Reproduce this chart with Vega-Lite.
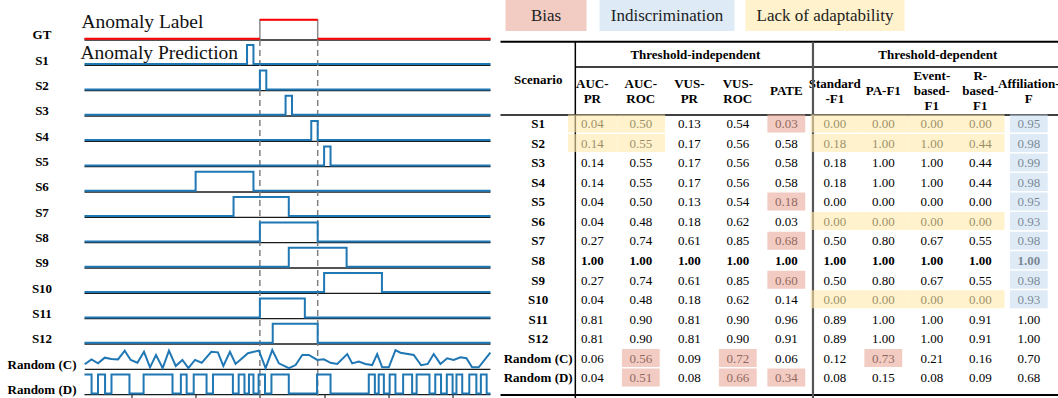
{
  "$schema": "https://vega.github.io/schema/vega-lite/v6.json",
  "padding": {"left": 6.5, "top": 0, "right": 0, "bottom": 0},
  "spacing": 5,
  "config": {
    "view": {"stroke": null},
    "font": "Liberation Serif",
    "text": {"font": "Liberation Serif"},
    "axis": {"labelFont": "Liberation Serif"}
  },
  "datasets": {
    "traces": [
      {"series":"GT","t":2.7,"v":0},{"series":"GT","t":30,"v":1},{"series":"GT","t":39,"v":0},{"series":"GT","t":65.9,"v":0},
      {"series":"S1","t":2.7,"v":0},{"series":"S1","t":28,"v":1},{"series":"S1","t":29,"v":0},{"series":"S1","t":65.9,"v":0},
      {"series":"S2","t":2.7,"v":0},{"series":"S2","t":30,"v":1},{"series":"S2","t":31,"v":0},{"series":"S2","t":65.9,"v":0},
      {"series":"S3","t":2.7,"v":0},{"series":"S3","t":34,"v":1},{"series":"S3","t":35,"v":0},{"series":"S3","t":65.9,"v":0},
      {"series":"S4","t":2.7,"v":0},{"series":"S4","t":38,"v":1},{"series":"S4","t":39,"v":0},{"series":"S4","t":65.9,"v":0},
      {"series":"S5","t":2.7,"v":0},{"series":"S5","t":40,"v":1},{"series":"S5","t":41,"v":0},{"series":"S5","t":65.9,"v":0},
      {"series":"S6","t":2.7,"v":0},{"series":"S6","t":20,"v":1},{"series":"S6","t":29,"v":0},{"series":"S6","t":65.9,"v":0},
      {"series":"S7","t":2.7,"v":0},{"series":"S7","t":25.9,"v":1},{"series":"S7","t":34.5,"v":0},{"series":"S7","t":65.9,"v":0},
      {"series":"S8","t":2.7,"v":0},{"series":"S8","t":30,"v":1},{"series":"S8","t":39,"v":0},{"series":"S8","t":65.9,"v":0},
      {"series":"S9","t":2.7,"v":0},{"series":"S9","t":34.5,"v":1},{"series":"S9","t":43.5,"v":0},{"series":"S9","t":65.9,"v":0},
      {"series":"S10","t":2.7,"v":0},{"series":"S10","t":40,"v":1},{"series":"S10","t":49,"v":0},{"series":"S10","t":65.9,"v":0},
      {"series":"S11","t":2.7,"v":0},{"series":"S11","t":30,"v":1},{"series":"S11","t":37,"v":0},{"series":"S11","t":65.9,"v":0},
      {"series":"S12","t":2.7,"v":0},{"series":"S12","t":32,"v":1},{"series":"S12","t":39,"v":0},{"series":"S12","t":65.9,"v":0},
      {"series":"Random (C)","t":2.74,"v":0.2},{"series":"Random (C)","t":3.78,"v":0.46},{"series":"Random (C)","t":4.81,"v":0.25},{"series":"Random (C)","t":5.85,"v":0.55},{"series":"Random (C)","t":6.89,"v":0.48},{"series":"Random (C)","t":7.92,"v":0.46},{"series":"Random (C)","t":8.96,"v":0.92},{"series":"Random (C)","t":9.89,"v":0.43},{"series":"Random (C)","t":10.94,"v":0.28},{"series":"Random (C)","t":11.96,"v":0.86},{"series":"Random (C)","t":12.9,"v":0.04},{"series":"Random (C)","t":13.83,"v":0.69},{"series":"Random (C)","t":14.87,"v":0.0},{"series":"Random (C)","t":15.85,"v":0.92},{"series":"Random (C)","t":16.9,"v":0.11},{"series":"Random (C)","t":17.94,"v":0.43},{"series":"Random (C)","t":18.87,"v":0.0},{"series":"Random (C)","t":19.9,"v":0.43},{"series":"Random (C)","t":20.94,"v":0.28},{"series":"Random (C)","t":22.44,"v":0.86},{"series":"Random (C)","t":23.47,"v":0.83},{"series":"Random (C)","t":24.31,"v":0.11},{"series":"Random (C)","t":25.34,"v":0.86},{"series":"Random (C)","t":26.22,"v":0.22},{"series":"Random (C)","t":28.14,"v":0.78},{"series":"Random (C)","t":29.85,"v":0.92},{"series":"Random (C)","t":30.89,"v":0.0},{"series":"Random (C)","t":31.93,"v":0.95},{"series":"Random (C)","t":32.96,"v":0.25},{"series":"Random (C)","t":34.51,"v":0.0},{"series":"Random (C)","t":35.56,"v":0.16},{"series":"Random (C)","t":36.6,"v":0.69},{"series":"Random (C)","t":37.62,"v":0.69},{"series":"Random (C)","t":38.93,"v":0.43},{"series":"Random (C)","t":39.96,"v":0.46},{"series":"Random (C)","t":41.0,"v":0.28},{"series":"Random (C)","t":42.04,"v":0.22},{"series":"Random (C)","t":43.6,"v":0.74},{"series":"Random (C)","t":44.37,"v":0.25},{"series":"Random (C)","t":45.4,"v":0.34},{"series":"Random (C)","t":46.44,"v":0.22},{"series":"Random (C)","t":47.48,"v":0.16},{"series":"Random (C)","t":48.26,"v":0.74},{"series":"Random (C)","t":49.04,"v":0.04},{"series":"Random (C)","t":50.07,"v":0.04},{"series":"Random (C)","t":51.11,"v":0.95},{"series":"Random (C)","t":51.88,"v":0.81},{"series":"Random (C)","t":53.95,"v":0.69},{"series":"Random (C)","t":55.1,"v":0.15},{"series":"Random (C)","t":56.13,"v":0.22},{"series":"Random (C)","t":57.06,"v":0.74},{"series":"Random (C)","t":58.1,"v":0.22},{"series":"Random (C)","t":59.15,"v":0.52},{"series":"Random (C)","t":60.17,"v":0.43},{"series":"Random (C)","t":61.22,"v":0.57},{"series":"Random (C)","t":62.15,"v":0.52},{"series":"Random (C)","t":63.04,"v":0.04},{"series":"Random (C)","t":64.06,"v":0.04},{"series":"Random (C)","t":65.88,"v":0.81},
      {"series":"Random (D)","t":2.7,"v":1},{"series":"Random (D)","t":3.8,"v":0},{"series":"Random (D)","t":4.8,"v":1},{"series":"Random (D)","t":5.9,"v":0},{"series":"Random (D)","t":6.9,"v":1},{"series":"Random (D)","t":9.7,"v":0},{"series":"Random (D)","t":11.9,"v":1},{"series":"Random (D)","t":16.4,"v":0},{"series":"Random (D)","t":17.7,"v":1},{"series":"Random (D)","t":18.6,"v":0},{"series":"Random (D)","t":19.7,"v":1},{"series":"Random (D)","t":21.7,"v":0},{"series":"Random (D)","t":22.7,"v":1},{"series":"Random (D)","t":25.8,"v":0},{"series":"Random (D)","t":26.7,"v":1},{"series":"Random (D)","t":27.6,"v":0},{"series":"Random (D)","t":28.3,"v":1},{"series":"Random (D)","t":29.0,"v":0},{"series":"Random (D)","t":29.8,"v":1},{"series":"Random (D)","t":30.8,"v":0},{"series":"Random (D)","t":31.8,"v":1},{"series":"Random (D)","t":34.5,"v":0},{"series":"Random (D)","t":38.9,"v":1},{"series":"Random (D)","t":41.0,"v":0},{"series":"Random (D)","t":46.95,"v":1},{"series":"Random (D)","t":47.9,"v":0},{"series":"Random (D)","t":48.5,"v":1},{"series":"Random (D)","t":49.3,"v":0},{"series":"Random (D)","t":50.2,"v":1},{"series":"Random (D)","t":51.1,"v":0},{"series":"Random (D)","t":52.3,"v":1},{"series":"Random (D)","t":53.7,"v":0},{"series":"Random (D)","t":54.4,"v":1},{"series":"Random (D)","t":56.4,"v":0},{"series":"Random (D)","t":57.3,"v":1},{"series":"Random (D)","t":58.2,"v":0},{"series":"Random (D)","t":59.1,"v":1},{"series":"Random (D)","t":60.0,"v":0},{"series":"Random (D)","t":60.6,"v":1},{"series":"Random (D)","t":61.5,"v":0},{"series":"Random (D)","t":62.6,"v":1},{"series":"Random (D)","t":63.7,"v":0},{"series":"Random (D)","t":64.4,"v":1},{"series":"Random (D)","t":65.3,"v":0},{"series":"Random (D)","t":65.9,"v":0}
    ],
    "scores": [
      {"scenario":"S1","AUC-PR":0.04,"AUC-ROC":0.50,"VUS-PR":0.13,"VUS-ROC":0.54,"PATE":0.03,"Standard-F1":0.00,"PA-F1":0.00,"Event-based-F1":0.00,"R-based-F1":0.00,"Affiliation-F":0.95},
      {"scenario":"S2","AUC-PR":0.14,"AUC-ROC":0.55,"VUS-PR":0.17,"VUS-ROC":0.56,"PATE":0.58,"Standard-F1":0.18,"PA-F1":1.00,"Event-based-F1":1.00,"R-based-F1":0.44,"Affiliation-F":0.98},
      {"scenario":"S3","AUC-PR":0.14,"AUC-ROC":0.55,"VUS-PR":0.17,"VUS-ROC":0.56,"PATE":0.58,"Standard-F1":0.18,"PA-F1":1.00,"Event-based-F1":1.00,"R-based-F1":0.44,"Affiliation-F":0.99},
      {"scenario":"S4","AUC-PR":0.14,"AUC-ROC":0.55,"VUS-PR":0.17,"VUS-ROC":0.56,"PATE":0.58,"Standard-F1":0.18,"PA-F1":1.00,"Event-based-F1":1.00,"R-based-F1":0.44,"Affiliation-F":0.98},
      {"scenario":"S5","AUC-PR":0.04,"AUC-ROC":0.50,"VUS-PR":0.13,"VUS-ROC":0.54,"PATE":0.18,"Standard-F1":0.00,"PA-F1":0.00,"Event-based-F1":0.00,"R-based-F1":0.00,"Affiliation-F":0.95},
      {"scenario":"S6","AUC-PR":0.04,"AUC-ROC":0.48,"VUS-PR":0.18,"VUS-ROC":0.62,"PATE":0.03,"Standard-F1":0.00,"PA-F1":0.00,"Event-based-F1":0.00,"R-based-F1":0.00,"Affiliation-F":0.93},
      {"scenario":"S7","AUC-PR":0.27,"AUC-ROC":0.74,"VUS-PR":0.61,"VUS-ROC":0.85,"PATE":0.68,"Standard-F1":0.50,"PA-F1":0.80,"Event-based-F1":0.67,"R-based-F1":0.55,"Affiliation-F":0.98},
      {"scenario":"S8","AUC-PR":1.00,"AUC-ROC":1.00,"VUS-PR":1.00,"VUS-ROC":1.00,"PATE":1.00,"Standard-F1":1.00,"PA-F1":1.00,"Event-based-F1":1.00,"R-based-F1":1.00,"Affiliation-F":1.00},
      {"scenario":"S9","AUC-PR":0.27,"AUC-ROC":0.74,"VUS-PR":0.61,"VUS-ROC":0.85,"PATE":0.60,"Standard-F1":0.50,"PA-F1":0.80,"Event-based-F1":0.67,"R-based-F1":0.55,"Affiliation-F":0.98},
      {"scenario":"S10","AUC-PR":0.04,"AUC-ROC":0.48,"VUS-PR":0.18,"VUS-ROC":0.62,"PATE":0.14,"Standard-F1":0.00,"PA-F1":0.00,"Event-based-F1":0.00,"R-based-F1":0.00,"Affiliation-F":0.93},
      {"scenario":"S11","AUC-PR":0.81,"AUC-ROC":0.90,"VUS-PR":0.81,"VUS-ROC":0.90,"PATE":0.96,"Standard-F1":0.89,"PA-F1":1.00,"Event-based-F1":1.00,"R-based-F1":0.91,"Affiliation-F":1.00},
      {"scenario":"S12","AUC-PR":0.81,"AUC-ROC":0.90,"VUS-PR":0.81,"VUS-ROC":0.90,"PATE":0.91,"Standard-F1":0.89,"PA-F1":1.00,"Event-based-F1":1.00,"R-based-F1":0.91,"Affiliation-F":1.00},
      {"scenario":"Random (C)","AUC-PR":0.06,"AUC-ROC":0.56,"VUS-PR":0.09,"VUS-ROC":0.72,"PATE":0.06,"Standard-F1":0.12,"PA-F1":0.73,"Event-based-F1":0.21,"R-based-F1":0.16,"Affiliation-F":0.70},
      {"scenario":"Random (D)","AUC-PR":0.04,"AUC-ROC":0.51,"VUS-PR":0.08,"VUS-ROC":0.66,"PATE":0.34,"Standard-F1":0.08,"PA-F1":0.15,"Event-based-F1":0.08,"R-based-F1":0.09,"Affiliation-F":0.68}
    ],
    "highlights": [
      {"scenario":"S1","metric":"AUC-PR","issue":"Lack of adaptability"},{"scenario":"S1","metric":"AUC-ROC","issue":"Lack of adaptability"},
      {"scenario":"S2","metric":"AUC-PR","issue":"Lack of adaptability"},{"scenario":"S2","metric":"AUC-ROC","issue":"Lack of adaptability"},
      {"scenario":"S1","metric":"Standard-F1","issue":"Lack of adaptability"},{"scenario":"S1","metric":"PA-F1","issue":"Lack of adaptability"},{"scenario":"S1","metric":"Event-based-F1","issue":"Lack of adaptability"},{"scenario":"S1","metric":"R-based-F1","issue":"Lack of adaptability"},
      {"scenario":"S2","metric":"Standard-F1","issue":"Lack of adaptability"},{"scenario":"S2","metric":"PA-F1","issue":"Lack of adaptability"},{"scenario":"S2","metric":"Event-based-F1","issue":"Lack of adaptability"},{"scenario":"S2","metric":"R-based-F1","issue":"Lack of adaptability"},
      {"scenario":"S6","metric":"Standard-F1","issue":"Lack of adaptability"},{"scenario":"S6","metric":"PA-F1","issue":"Lack of adaptability"},{"scenario":"S6","metric":"Event-based-F1","issue":"Lack of adaptability"},{"scenario":"S6","metric":"R-based-F1","issue":"Lack of adaptability"},
      {"scenario":"S10","metric":"Standard-F1","issue":"Lack of adaptability"},{"scenario":"S10","metric":"PA-F1","issue":"Lack of adaptability"},{"scenario":"S10","metric":"Event-based-F1","issue":"Lack of adaptability"},{"scenario":"S10","metric":"R-based-F1","issue":"Lack of adaptability"},
      {"scenario":"S1","metric":"PATE","issue":"Bias"},{"scenario":"S5","metric":"PATE","issue":"Bias"},{"scenario":"S7","metric":"PATE","issue":"Bias"},{"scenario":"S9","metric":"PATE","issue":"Bias"},{"scenario":"Random (D)","metric":"PATE","issue":"Bias"},
      {"scenario":"Random (C)","metric":"AUC-ROC","issue":"Bias"},{"scenario":"Random (C)","metric":"VUS-ROC","issue":"Bias"},{"scenario":"Random (C)","metric":"PA-F1","issue":"Bias"},
      {"scenario":"Random (D)","metric":"AUC-ROC","issue":"Bias"},{"scenario":"Random (D)","metric":"VUS-ROC","issue":"Bias"},
      {"scenario":"S1","metric":"Affiliation-F","issue":"Indiscrimination"},{"scenario":"S2","metric":"Affiliation-F","issue":"Indiscrimination"},{"scenario":"S3","metric":"Affiliation-F","issue":"Indiscrimination"},{"scenario":"S4","metric":"Affiliation-F","issue":"Indiscrimination"},{"scenario":"S5","metric":"Affiliation-F","issue":"Indiscrimination"},{"scenario":"S6","metric":"Affiliation-F","issue":"Indiscrimination"},{"scenario":"S7","metric":"Affiliation-F","issue":"Indiscrimination"},{"scenario":"S8","metric":"Affiliation-F","issue":"Indiscrimination"},{"scenario":"S9","metric":"Affiliation-F","issue":"Indiscrimination"},{"scenario":"S10","metric":"Affiliation-F","issue":"Indiscrimination"}
    ],
    "headers": [
      {"metric":"AUC-PR","label":["AUC-","PR"]},{"metric":"AUC-ROC","label":["AUC-","ROC"]},{"metric":"VUS-PR","label":["VUS-","PR"]},{"metric":"VUS-ROC","label":["VUS-","ROC"]},{"metric":"PATE","label":["PATE"]},
      {"metric":"Standard-F1","label":["Standard","-F1"]},{"metric":"PA-F1","label":["PA-F1"]},{"metric":"Event-based-F1","label":["Event-","based-","F1"]},{"metric":"R-based-F1","label":["R-","based-","F1"]},{"metric":"Affiliation-F","label":["Affiliation-","F"]}
    ],
    "groups": [
      {"group":"Threshold-independent","middle":"VUS-PR"},
      {"group":"Threshold-dependent","middle":"Event-based-F1"}
    ],
    "issues": [
      {"issue":"Bias","order":1},{"issue":"Indiscrimination","order":2},{"issue":"Lack of adaptability","order":3}
    ]
  },
  "hconcat": [
    {
      "width": 406,
      "height": 398,
      "layer": [
        {
          "data": {"name": "traces"},
          "transform": [{"aggregate": [{"op": "min", "field": "t", "as": "t0"}, {"op": "max", "field": "t", "as": "t1"}], "groupby": ["series"]}],
          "mark": {"type": "rule", "color": "#1a1a1a", "strokeWidth": 1.3},
          "encoding": {
            "x": {"field": "t0", "type": "quantitative", "title": null, "scale": {"domain": [2.7, 65.9], "nice": false, "zero": false},
                  "axis": {"values": [10, 20, 30, 40, 50, 60], "labels": false, "domain": false, "grid": false, "ticks": true, "tickSize": 3.5, "offset": -3.5, "tickColor": "#000", "tickWidth": 1, "title": null}},
            "x2": {"field": "t1"},
            "y": {"field": "series", "type": "nominal", "title": null,
                  "scale": {"domain": ["GT","S1","S2","S3","S4","S5","S6","S7","S8","S9","S10","S11","S12","Random (C)","Random (D)"], "paddingInner": 0, "paddingOuter": 0.355, "align": 0.815},
                  "axis": {"title": null, "domain": false, "ticks": false, "grid": false, "labelAlign": "center", "labelPadding": 43, "labelOffset": 8, "labelFontSize": 13, "labelFontWeight": "bold", "labelColor": "#000", "labelOverlap": false, "labelBaseline": "middle"}},
            "yOffset": {"datum": -0.065, "type": "quantitative", "scale": {"domain": [0, 1], "range": [24.1, 5.1], "nice": false, "zero": false}}
          }
        },
        {
          "data": {"name": "traces"},
          "transform": [{"filter": "datum.series == 'GT' && datum.t > 3 && datum.t < 65"}],
          "mark": {"type": "rule", "color": "#808080", "strokeWidth": 1.5, "strokeDash": [6, 4]},
          "encoding": {
            "x": {"field": "t", "type": "quantitative", "title": null},
            "y": {"datum": "GT", "type": "nominal", "bandPosition": 1},
            "y2": {"value": "height"}
          }
        },
        {
          "data": {"name": "traces"},
          "transform": [{"filter": "datum.series != 'GT' && datum.series != 'Random (C)'"}],
          "mark": {"type": "line", "interpolate": "step-after", "color": "#1f77b4", "strokeWidth": 2},
          "encoding": {
            "x": {"field": "t", "type": "quantitative", "title": null},
            "y": {"field": "series", "type": "nominal", "title": null},
            "yOffset": {"field": "v", "type": "quantitative"},
            "detail": {"field": "series"},
            "order": {"field": "t", "type": "quantitative"}
          }
        },
        {
          "data": {"name": "traces"},
          "transform": [{"filter": "datum.series == 'Random (C)'"}],
          "mark": {"type": "line", "color": "#1f77b4", "strokeWidth": 2},
          "encoding": {
            "x": {"field": "t", "type": "quantitative", "title": null},
            "y": {"field": "series", "type": "nominal", "title": null},
            "yOffset": {"field": "v", "type": "quantitative"},
            "detail": {"field": "series"},
            "order": {"field": "t", "type": "quantitative"}
          }
        },
        {
          "data": {"name": "traces"},
          "transform": [{"filter": "datum.series == 'GT'"}],
          "mark": {"type": "line", "interpolate": "step-after", "color": "#8c8c8c", "strokeWidth": 1.5},
          "encoding": {
            "x": {"field": "t", "type": "quantitative", "title": null},
            "y": {"field": "series", "type": "nominal", "title": null},
            "yOffset": {"field": "v", "type": "quantitative"},
            "order": {"field": "t", "type": "quantitative"}
          }
        },
        {
          "data": {"name": "traces"},
          "transform": [
            {"filter": "datum.series == 'GT'"},
            {"window": [{"op": "lead", "field": "t", "as": "t_next"}], "sort": [{"field": "t"}]},
            {"filter": "datum.t_next != null"}
          ],
          "mark": {"type": "rule", "color": "#ff0000", "strokeWidth": 2},
          "encoding": {
            "x": {"field": "t", "type": "quantitative", "title": null},
            "x2": {"field": "t_next"},
            "y": {"field": "series", "type": "nominal", "title": null},
            "yOffset": {"field": "v", "type": "quantitative"}
          }
        },
        {
          "data": {"values": [{"series": "GT", "note": "Anomaly Label"}]},
          "mark": {"type": "text", "align": "left", "baseline": "middle", "fontSize": 19.5, "dx": -3, "color": "#111"},
          "encoding": {
            "x": {"datum": 2.7, "type": "quantitative"},
            "y": {"field": "series", "type": "nominal", "title": null},
            "yOffset": {"datum": 0.88, "type": "quantitative"},
            "text": {"field": "note"}
          }
        },
        {
          "data": {"values": [{"series": "S1", "note": "Anomaly Prediction"}]},
          "mark": {"type": "text", "align": "left", "baseline": "middle", "fontSize": 19.5, "dx": -4, "color": "#111"},
          "encoding": {
            "x": {"datum": 2.7, "type": "quantitative"},
            "y": {"field": "series", "type": "nominal", "title": null},
            "yOffset": {"datum": 0.584, "type": "quantitative"},
            "text": {"field": "note"}
          }
        }
      ]
    },
    {
      "width": 563,
      "height": 398,
      "layer": [
        {
          "data": {"name": "issues"},
          "layer": [
            {
              "mark": {"type": "tick", "orient": "horizontal", "thickness": 31, "opacity": 0.6},
              "encoding": {
                "x": {"field": "order", "type": "quantitative", "title": null, "scale": {"domain": [1, 2, 3], "range": [45.5, 166.5, 324.5], "nice": false, "zero": false}, "axis": null},
                "y": {"datum": 0.5, "type": "quantitative", "scale": {"domain": [0, 1], "range": [0, 31], "nice": false, "zero": false}, "axis": null},
                "size": {"field": "order", "type": "quantitative", "scale": {"domain": [1, 2, 3], "range": [81, 135, 159], "nice": false, "zero": false}, "legend": null},
                "color": {"field": "issue", "type": "nominal", "scale": {"domain": ["Bias", "Indiscrimination", "Lack of adaptability"], "range": ["#E9A899", "#C8DEF2", "#FFE9AA"]}, "legend": null}
              }
            },
            {
              "mark": {"type": "text", "fontSize": 17, "color": "#222", "baseline": "middle"},
              "encoding": {
                "x": {"field": "order", "type": "quantitative", "title": null},
                "y": {"datum": 0.5, "type": "quantitative"},
                "text": {"field": "issue"}
              }
            }
          ]
        },
        {
          "layer": [
            {
              "layer": [
                {
                  "data": {"name": "headers"},
                  "transform": [{"filter": "length(datum.label) == 1"}],
                  "mark": {"type": "text", "fontSize": 13, "fontWeight": "bold", "baseline": "middle", "lineHeight": 15, "color": "#000"},
                  "encoding": {
                    "x": {"field": "metric", "type": "nominal", "title": null,
                          "scale": {"domain": ["Scenario","AUC-PR","AUC-ROC","VUS-PR","VUS-ROC","PATE","Standard-F1","PA-F1","Event-based-F1","R-based-F1","Affiliation-F"], "range": [19.05, 552.55], "paddingInner": 0, "paddingOuter": 0}, "axis": null},
                    "y": {"datum": 3, "type": "quantitative", "scale": {"domain": [0, 1, 2, 3, 4, 5], "range": [41.7, 55, 67, 91, 115, 395], "nice": false, "zero": false}, "axis": null},
                    "text": {"field": "label"}
                  }
                },
                {
                  "data": {"name": "headers"},
                  "transform": [{"filter": "length(datum.label) == 2"}],
                  "mark": {"type": "text", "fontSize": 13, "fontWeight": "bold", "baseline": "middle", "lineHeight": 15, "dy": -7.5, "color": "#000"},
                  "encoding": {
                    "x": {"field": "metric", "type": "nominal", "title": null},
                    "y": {"datum": 3, "type": "quantitative"},
                    "text": {"field": "label"}
                  }
                },
                {
                  "data": {"name": "headers"},
                  "transform": [{"filter": "length(datum.label) == 3"}],
                  "mark": {"type": "text", "fontSize": 13, "fontWeight": "bold", "baseline": "middle", "lineHeight": 15, "dy": -15, "color": "#000"},
                  "encoding": {
                    "x": {"field": "metric", "type": "nominal", "title": null},
                    "y": {"datum": 3, "type": "quantitative"},
                    "text": {"field": "label"}
                  }
                },
                {
                  "data": {"name": "groups"},
                  "mark": {"type": "text", "fontSize": 13, "fontWeight": "bold", "baseline": "middle", "dx": 6, "color": "#000"},
                  "encoding": {
                    "x": {"field": "middle", "type": "nominal", "title": null},
                    "y": {"datum": 1, "type": "quantitative"},
                    "text": {"field": "group"}
                  }
                },
                {
                  "data": {"values": [{"h": "Scenario"}]},
                  "mark": {"type": "text", "fontSize": 13, "fontWeight": "bold", "baseline": "middle", "dx": -5.6, "color": "#000"},
                  "encoding": {
                    "x": {"datum": "Scenario", "type": "nominal"},
                    "y": {"datum": 2.55, "type": "quantitative"},
                    "text": {"field": "h"}
                  }
                },
                {
                  "data": {"values": [{"line": 0, "w": 2}, {"line": 4, "w": 1.3}, {"line": 5, "w": 2}]},
                  "mark": {"type": "rule", "color": "#000"},
                  "encoding": {
                    "y": {"field": "line", "type": "quantitative"},
                    "strokeWidth": {"field": "w", "type": "quantitative", "scale": null}
                  }
                },
                {
                  "data": {"values": [{}]},
                  "mark": {"type": "rule", "color": "#000", "strokeWidth": 1.3},
                  "encoding": {
                    "x": {"datum": "AUC-PR", "type": "nominal", "bandPosition": 0.15},
                    "x2": {"value": "width"},
                    "y": {"datum": 2, "type": "quantitative"}
                  }
                },
                {
                  "data": {"values": [{}]},
                  "mark": {"type": "rule", "color": "#000", "strokeWidth": 1.5},
                  "encoding": {
                    "x": {"datum": "AUC-PR", "type": "nominal", "bandPosition": 0.15},
                    "y": {"datum": 0, "type": "quantitative"},
                    "y2": {"value": "height"}
                  }
                },
                {
                  "data": {"values": [{}]},
                  "mark": {"type": "rule", "color": "#555", "strokeWidth": 2.2},
                  "encoding": {
                    "x": {"datum": "Standard-F1", "type": "nominal", "bandPosition": 0.05},
                    "y": {"datum": 0, "type": "quantitative"},
                    "y2": {"value": "height"}
                  }
                }
              ]
            },
            {
              "layer": [
                {
                  "data": {"name": "scores"},
                  "transform": [{"fold": ["AUC-PR","AUC-ROC","VUS-PR","VUS-ROC","PATE","Standard-F1","PA-F1","Event-based-F1","R-based-F1","Affiliation-F"], "as": ["metric", "score"]}, {"filter": "datum.scenario != 'S8'"}],
                  "mark": {"type": "text", "fontSize": 13, "baseline": "middle", "color": "#000"},
                  "encoding": {
                    "x": {"field": "metric", "type": "nominal", "title": null},
                    "y": {"field": "scenario", "type": "nominal", "title": null,
                          "scale": {"domain": ["S1","S2","S3","S4","S5","S6","S7","S8","S9","S10","S11","S12","Random (C)","Random (D)"], "range": [114.4, 388], "paddingInner": 0, "paddingOuter": 0}, "axis": null},
                    "text": {"field": "score", "type": "quantitative", "format": ".2f"}
                  }
                },
                {
                  "data": {"name": "scores"},
                  "transform": [{"fold": ["AUC-PR","AUC-ROC","VUS-PR","VUS-ROC","PATE","Standard-F1","PA-F1","Event-based-F1","R-based-F1","Affiliation-F"], "as": ["metric", "score"]}, {"filter": "datum.scenario == 'S8'"}],
                  "mark": {"type": "text", "fontSize": 13, "fontWeight": "bold", "baseline": "middle", "color": "#000"},
                  "encoding": {
                    "x": {"field": "metric", "type": "nominal", "title": null},
                    "y": {"field": "scenario", "type": "nominal", "title": null},
                    "text": {"field": "score", "type": "quantitative", "format": ".2f"}
                  }
                },
                {
                  "data": {"name": "scores"},
                  "mark": {"type": "text", "fontSize": 13, "fontWeight": "bold", "baseline": "middle", "dx": -5.6, "color": "#000"},
                  "encoding": {
                    "x": {"datum": "Scenario", "type": "nominal"},
                    "y": {"field": "scenario", "type": "nominal", "title": null},
                    "text": {"field": "scenario"}
                  }
                },
                {
                  "data": {"name": "highlights"},
                  "transform": [{"filter": "datum.issue == 'Lack of adaptability'"}],
                  "mark": {"type": "rect", "opacity": 0.6},
                  "encoding": {
                    "x": {"field": "metric", "type": "nominal", "title": null},
                    "y": {"field": "scenario", "type": "nominal", "title": null},
                    "color": {"field": "issue", "type": "nominal", "scale": {"domain": ["Bias", "Indiscrimination", "Lack of adaptability"], "range": ["#E9A899", "#C8DEF2", "#FFE9AA"]}, "legend": null}
                  }
                },
                {
                  "data": {"name": "highlights"},
                  "transform": [{"filter": "datum.issue != 'Lack of adaptability'"}],
                  "mark": {"type": "rect", "opacity": 0.6, "width": {"band": 0.78}},
                  "encoding": {
                    "x": {"field": "metric", "type": "nominal", "title": null},
                    "y": {"field": "scenario", "type": "nominal", "title": null},
                    "color": {"field": "issue", "type": "nominal", "legend": null}
                  }
                }
              ]
            }
          ],
          "resolve": {"scale": {"y": "independent"}}
        }
      ],
      "resolve": {"scale": {"x": "independent", "y": "independent", "size": "independent"}}
    }
  ]
}
